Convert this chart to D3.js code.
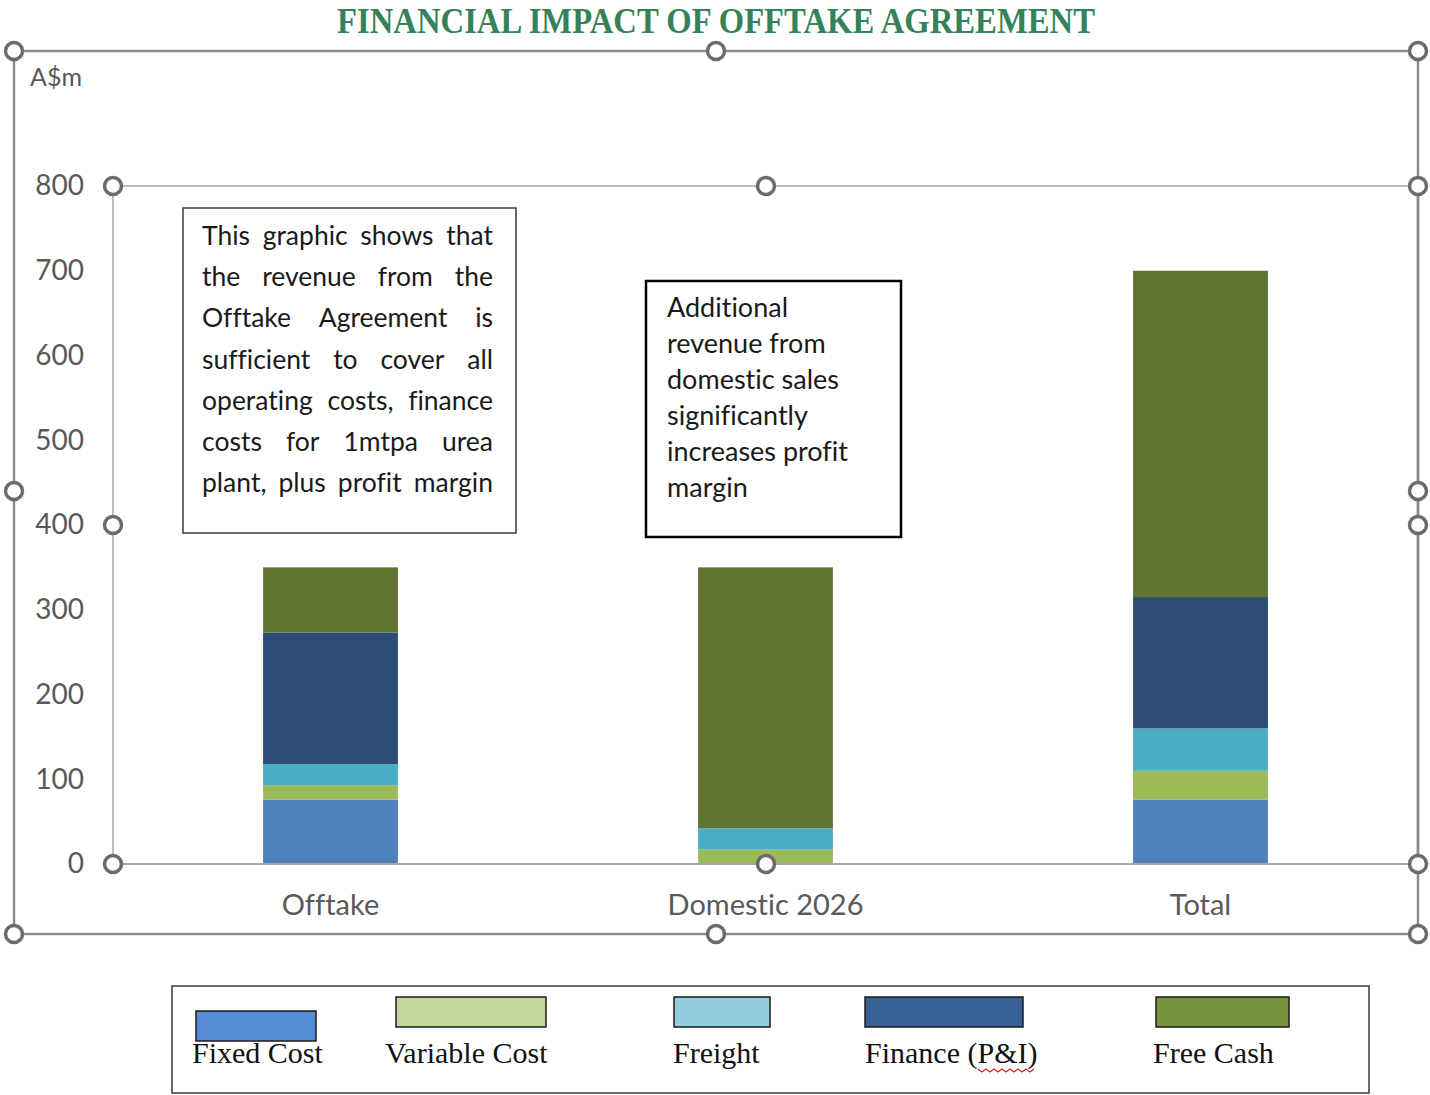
<!DOCTYPE html>
<html>
<head>
<meta charset="utf-8">
<script src="https://cdn.jsdelivr.net/npm/d3@7/dist/d3.min.js"></script>
<style>
  body { margin: 0; background: #fff; }
  svg { display: block; }
  text { font-variant-ligatures: none; font-feature-settings: "liga" 0; }
</style>
</head>
<body>
<script>
// values (A$m)
var categories = ["Offtake", "Domestic 2026", "Total"];
var seriesNames = ["Fixed Cost", "Variable Cost", "Freight", "Finance (P&I)", "Free Cash"];
var fixedCost = [76, 0, 76];
var variableCost = [17, 17, 34];
var freight = [25, 25, 50];
var finance = [155, 0, 155];
var freeCash = [77, 308, 385];
var yTicks = [0, 100, 200, 300, 400, 500, 600, 700, 800];

var barColours = ["#4f81bd", "#9bbb59", "#4bacc6", "#2c4d75", "#617431"];
var legendColours = ["#558ed5", "#c3d69b", "#93cddd", "#366092", "#77933c"];

var note1 = ["This graphic shows that", "the revenue from the", "Offtake Agreement is",
  "sufficient to cover all", "operating costs, finance", "costs for 1mtpa urea", "plant,  plus profit margin"];
var note2 = ["Additional", "revenue from", "domestic sales", "significantly", "increases profit", "margin"];

var W = 1430, H = 1095;
var sans = "Lato, 'Open Sans', sans-serif";
var serif = "'Liberation Serif', 'DejaVu Serif', serif";

var svg = d3.select("body").append("svg").attr("width", W).attr("height", H);

// title
svg.append("text")
  .attr("x", 716).attr("y", 33)
  .attr("text-anchor", "middle")
  .attr("font-family", serif).attr("font-size", 35).attr("font-weight", "bold")
  .attr("fill", "#35825a")
  .attr("textLength", 758).attr("lengthAdjust", "spacingAndGlyphs")
  .text("FINANCIAL IMPACT OF OFFTAKE AGREEMENT");

// plot area
var plot = {left: 113, right: 1418, top: 186, bottom: 864};

var x = d3.scaleBand().domain(categories)
  .range([plot.left, plot.right])
  .paddingInner(0.69).paddingOuter(0.345);
var y = d3.scaleLinear().domain([0, 800]).range([plot.bottom, plot.top]);

var rows = categories.map(function(c, i) {
  return {cat: c, "Fixed Cost": fixedCost[i], "Variable Cost": variableCost[i],
    "Freight": freight[i], "Finance (P&I)": finance[i], "Free Cash": freeCash[i]};
});
var stacked = d3.stack().keys(seriesNames)(rows);

// outer chart frame
var frame = svg.append("g");
frame.append("rect").attr("x", 14).attr("y", 51).attr("width", 1404).attr("height", 883)
  .attr("fill", "none").attr("stroke", "#8c8c8c").attr("stroke-width", 2.5);

// plot area edges
svg.append("line").attr("x1", plot.left).attr("x2", plot.right).attr("y1", plot.top).attr("y2", plot.top)
  .attr("stroke", "#bdbdbd").attr("stroke-width", 2);
svg.append("line").attr("x1", plot.left).attr("x2", plot.left).attr("y1", plot.top).attr("y2", plot.bottom)
  .attr("stroke", "#bdbdbd").attr("stroke-width", 2);
svg.append("line").attr("x1", plot.right).attr("x2", plot.right).attr("y1", plot.top).attr("y2", plot.bottom)
  .attr("stroke", "#8c8c8c").attr("stroke-width", 2.5);

// bars
svg.append("g").selectAll("g")
  .data(stacked)
  .enter().append("g")
  .attr("fill", function(d, i) { return barColours[i]; })
  .selectAll("rect")
  .data(function(d) { return d; })
  .enter().append("rect")
  .attr("x", function(d) { return x(d.data.cat); })
  .attr("y", function(d) { return y(d[1]); })
  .attr("width", x.bandwidth())
  .attr("height", function(d) { return y(d[0]) - y(d[1]); });

// baseline
svg.append("line").attr("x1", plot.left).attr("x2", plot.right).attr("y1", y(0)).attr("y2", y(0))
  .attr("stroke", "#a6a6a6").attr("stroke-width", 2);

// y axis labels
var yAxis = svg.append("g").attr("transform", "translate(" + 84 + ",0)")
  .call(d3.axisLeft(y).tickValues(yTicks).tickSize(0).tickPadding(0));
yAxis.select(".domain").remove();
yAxis.selectAll("text").attr("font-family", sans).attr("font-size", 28).attr("fill", "#595959");

// x axis labels
var xAxis = svg.append("g").attr("transform", "translate(0," + 894 + ")")
  .call(d3.axisBottom(x).tickSize(0).tickPadding(0));
xAxis.select(".domain").remove();
xAxis.selectAll("text").attr("font-family", sans).attr("font-size", 29).attr("fill", "#595959");

svg.append("text").attr("x", 30).attr("y", 86)
  .attr("font-family", sans).attr("font-size", 25).attr("fill", "#595959").text("A$m");

// selection handles
var handles = [[14, 51], [716, 51], [1418, 51], [14, 491], [1418, 491], [14, 934], [716, 934], [1418, 934],
  [plot.left, plot.top], [766, plot.top], [plot.right, plot.top], [plot.left, 525], [plot.right, 525],
  [plot.left, plot.bottom], [766, plot.bottom], [plot.right, plot.bottom]];
svg.append("g").selectAll("circle").data(handles).enter().append("circle")
  .attr("cx", function(d) { return d[0]; }).attr("cy", function(d) { return d[1]; })
  .attr("r", 8.5).attr("fill", "#fff").attr("stroke", "#6b6b6b").attr("stroke-width", 3.5);

// note boxes
svg.append("rect").attr("x", 183).attr("y", 208).attr("width", 333).attr("height", 325)
  .attr("fill", "#fff").attr("stroke", "#3a3a3a").attr("stroke-width", 1.5);
var n1 = svg.append("g").attr("font-family", sans).attr("font-size", 26.5).attr("fill", "#1a1a1a");
note1.forEach(function(line, i) {
  var words = line.split(/\s+/);
  var base = 245 + i * 41.2;
  var nodes = words.map(function(w) { return n1.append("text").attr("y", base).text(w); });
  var widths = nodes.map(function(t) { return t.node().getComputedTextLength(); });
  var gap = (493 - 202 - d3.sum(widths)) / (words.length - 1);
  var cx = 202;
  nodes.forEach(function(t, k) { t.attr("x", cx); cx += widths[k] + gap; });
});

svg.append("rect").attr("x", 646).attr("y", 281).attr("width", 255).attr("height", 256)
  .attr("fill", "#fff").attr("stroke", "#000").attr("stroke-width", 2.5);
svg.append("g").attr("font-family", sans).attr("font-size", 27).attr("fill", "#1a1a1a")
  .selectAll("text").data(note2).enter().append("text")
  .attr("x", 667).attr("y", function(d, i) { return 317 + i * 36; })
  .text(function(d) { return d; });

// legend
var legendLayout = [
  {sx: 196, sw: 120, sy: 1011, tx: 192},
  {sx: 396, sw: 150, sy: 997, tx: 385},
  {sx: 674, sw: 96, sy: 997, tx: 673},
  {sx: 865, sw: 158, sy: 997, tx: 865},
  {sx: 1156, sw: 133, sy: 997, tx: 1153}
];
svg.append("rect").attr("x", 172).attr("y", 986).attr("width", 1197).attr("height", 107)
  .attr("fill", "#fff").attr("stroke", "#3a3a3a").attr("stroke-width", 1.5);
var lg = svg.append("g").selectAll("g").data(seriesNames).enter().append("g");
lg.append("rect")
  .attr("x", function(d, i) { return legendLayout[i].sx; })
  .attr("y", function(d, i) { return legendLayout[i].sy; })
  .attr("width", function(d, i) { return legendLayout[i].sw; })
  .attr("height", 30)
  .attr("fill", function(d, i) { return legendColours[i]; })
  .attr("stroke", "#1a1a1a").attr("stroke-width", 1.5);
lg.append("text")
  .attr("x", function(d, i) { return legendLayout[i].tx; })
  .attr("y", 1063)
  .attr("font-family", serif).attr("font-size", 30).attr("fill", "#111")
  .text(function(d) { return d; });

// spell-check squiggle under P&I
var sq = d3.range(0, 15).map(function(k) { return [978 + k * 4, k % 2 ? 1072 : 1069]; });
svg.append("path").attr("d", d3.line()(sq)).attr("fill", "none").attr("stroke", "#e02020").attr("stroke-width", 1.2);
</script>
</body>
</html>
